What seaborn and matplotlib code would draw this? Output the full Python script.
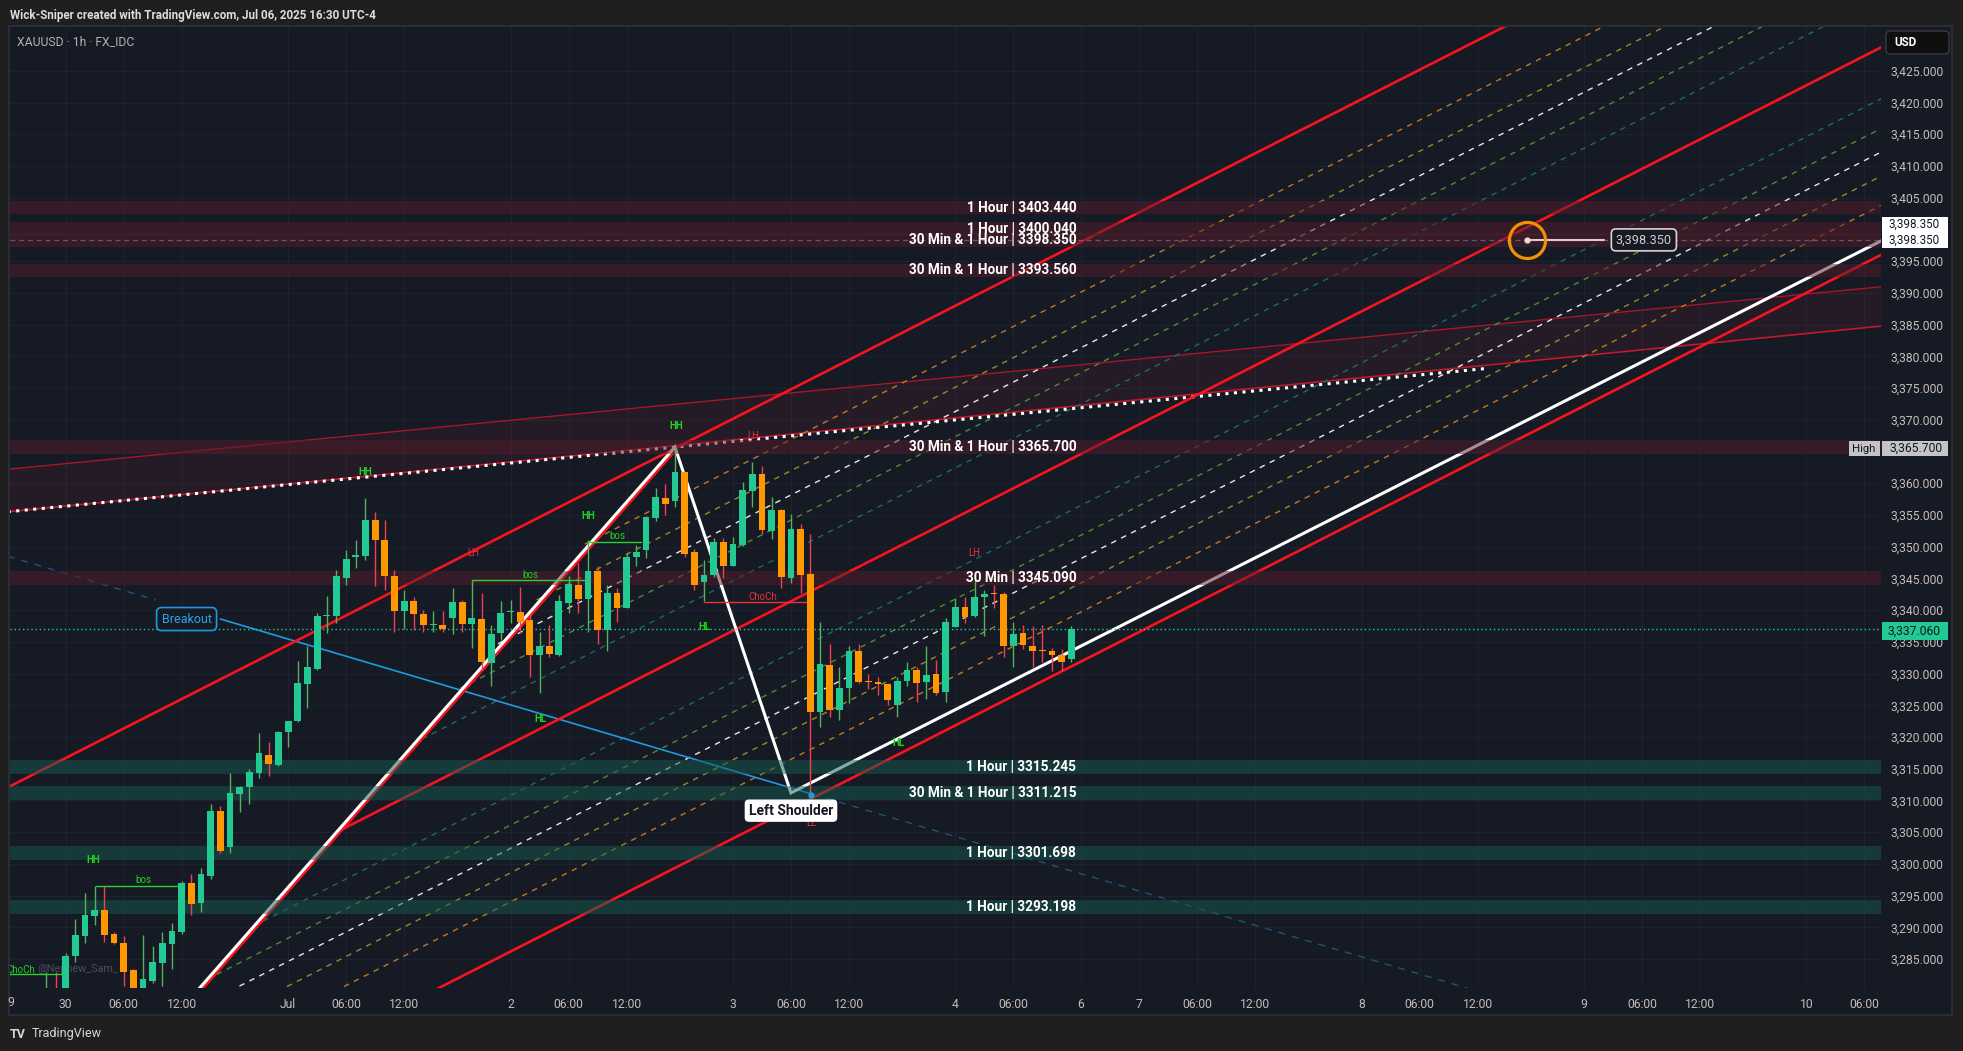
import matplotlib
matplotlib.use("Agg")
import matplotlib.pyplot as plt
from matplotlib.patches import Rectangle, FancyBboxPatch
import seaborn as sns

W, H = 1963, 1051

# hourly bars, x = bar number (0 = Jun 30 00:00)
bar_idx = list(range(-2, 105))
opens = [
    3276.0, 3279.0,
    3277.5, 3285.5, 3288.7, 3291.8, 3292.7, 3288.9, 3287.6, 3283.3, 3279.5, 3281.6,
    3284.4, 3287.4, 3289.3, 3297.0, 3293.8, 3298.1, 3308.4, 3302.7, 3311.1, 3312.1,
    3314.3, 3317.2, 3315.6, 3320.8, 3322.5, 3328.3, 3330.8, 3339.1, 3339.1, 3345.1,
    3348.3, 3348.6, 3354.2, 3351.1, 3345.4, 3339.8, 3341.4, 3339.4, 3337.6, 3337.6,
    3338.7, 3341.3, 3337.8, 3338.6, 3331.7, 3336.4, 3339.7, 3339.7, 3338.5, 3333.0,
    3334.4, 3333.0, 3341.2, 3344.0, 3341.8, 3346.2, 3336.8, 3342.7, 3340.4, 3348.3,
    3349.4, 3354.5, 3357.6, 3357.2, 3361.7, 3349.2, 3344.4, 3345.6, 3350.8, 3347.0,
    3350.3, 3358.8, 3361.4, 3352.5, 3355.8, 3345.1, 3352.8, 3345.7, 3324.0, 3331.3,
    3324.2, 3327.7, 3333.5, 3328.8, 3328.7, 3328.4, 3325.0, 3328.8, 3330.6, 3328.6,
    3330.0, 3327.1, 3337.4, 3340.5, 3339.1, 3342.1, 3342.6, 3342.6, 3334.3, 3336.4,
    3334.4, 3333.6, 3333.6, 3333.0, 3332.3]
highs = [
    3282.9, 3282.9,
    3286.0, 3291.3, 3295.4, 3296.5, 3296.5, 3289.2, 3288.6, 3283.5, 3288.8, 3287.1,
    3289.3, 3290.7, 3297.3, 3298.4, 3299.4, 3309.4, 3309.1, 3314.3, 3312.3, 3314.9,
    3320.7, 3319.2, 3320.9, 3322.6, 3332.0, 3334.3, 3339.5, 3342.3, 3346.4, 3349.5,
    3351.1, 3357.6, 3355.4, 3354.2, 3346.3, 3343.2, 3342.0, 3340.0, 3339.8, 3339.9,
    3343.5, 3341.6, 3344.7, 3342.7, 3337.7, 3341.4, 3341.6, 3343.7, 3339.4, 3336.6,
    3337.7, 3342.4, 3345.4, 3347.4, 3351.0, 3346.9, 3344.0, 3343.5, 3349.0, 3350.3,
    3354.8, 3359.2, 3359.9, 3365.7, 3361.8, 3349.6, 3347.9, 3351.3, 3351.3, 3351.5,
    3360.2, 3363.3, 3362.7, 3357.9, 3356.0, 3355.2, 3353.5, 3352.0, 3338.2, 3334.7,
    3331.1, 3334.4, 3334.7, 3330.0, 3329.5, 3328.5, 3329.5, 3331.8, 3331.0, 3334.3,
    3332.2, 3338.8, 3341.9, 3342.0, 3344.8, 3343.2, 3344.0, 3342.9, 3338.1, 3337.7,
    3337.5, 3337.7, 3334.0, 3333.8, 3337.5]
lows = [
    3274.0, 3275.0,
    3276.5, 3284.5, 3287.6, 3290.4, 3287.7, 3287.4, 3280.8, 3278.5, 3279.0, 3281.3,
    3280.8, 3283.4, 3288.9, 3291.9, 3292.4, 3297.6, 3301.8, 3301.8, 3308.2, 3309.4,
    3313.6, 3313.9, 3315.4, 3318.4, 3322.4, 3324.6, 3330.5, 3336.4, 3338.0, 3343.9,
    3346.6, 3347.9, 3343.8, 3343.2, 3336.6, 3337.1, 3336.8, 3336.5, 3336.5, 3336.5,
    3336.2, 3336.5, 3334.1, 3330.6, 3328.0, 3335.3, 3338.0, 3336.4, 3329.5, 3327.0,
    3332.6, 3332.8, 3339.5, 3339.5, 3336.6, 3334.7, 3333.6, 3338.2, 3340.3, 3347.0,
    3348.2, 3354.0, 3355.0, 3356.2, 3348.4, 3343.1, 3341.4, 3345.3, 3345.0, 3346.9,
    3350.1, 3356.2, 3352.0, 3351.2, 3343.5, 3344.2, 3342.7, 3310.9, 3321.6, 3323.1,
    3322.7, 3325.4, 3328.5, 3327.5, 3326.7, 3325.0, 3323.2, 3328.0, 3325.5, 3326.0,
    3326.6, 3325.6, 3337.3, 3337.9, 3338.9, 3336.0, 3340.4, 3332.6, 3331.1, 3333.9,
    3331.0, 3331.8, 3330.4, 3330.4, 3331.8]
closes = [
    3279.0, 3277.5,
    3285.5, 3288.8, 3291.9, 3292.7, 3288.8, 3287.6, 3283.0, 3279.5, 3281.9, 3284.5,
    3287.5, 3289.4, 3297.0, 3293.7, 3298.4, 3308.4, 3302.0, 3311.2, 3312.2, 3314.5,
    3317.5, 3315.7, 3320.8, 3322.6, 3328.5, 3331.1, 3339.1, 3339.2, 3345.4, 3348.1,
    3348.7, 3354.2, 3351.1, 3345.4, 3339.9, 3341.5, 3339.4, 3337.6, 3337.7, 3337.1,
    3341.3, 3337.8, 3338.7, 3331.8, 3336.3, 3339.6, 3339.8, 3338.2, 3333.0, 3334.4,
    3333.1, 3341.5, 3344.1, 3341.8, 3346.2, 3336.9, 3342.7, 3340.4, 3348.3, 3349.1,
    3354.6, 3357.8, 3356.8, 3361.7, 3348.9, 3344.0, 3345.6, 3350.8, 3347.0, 3350.4,
    3358.9, 3361.4, 3352.6, 3355.8, 3345.3, 3352.8, 3345.5, 3323.9, 3331.5, 3324.2,
    3327.7, 3333.6, 3328.7, 3328.7, 3328.3, 3325.8, 3328.9, 3330.6, 3328.5, 3329.7,
    3327.0, 3338.2, 3340.5, 3338.9, 3342.0, 3342.6, 3342.5, 3334.3, 3336.3, 3334.5,
    3333.5, 3333.5, 3332.9, 3331.9, 3337.06]

# axes
time_tick_idx = [0, 6, 12, 23, 29, 35, 46, 52, 58, 69, 75, 81, 92, 98,
                 105, 111, 117, 123, 134, 140, 146, 157, 163, 169, 180, 186]
time_tick_lbl = ["30", "06:00", "12:00", "Jul", "06:00", "12:00", "2", "06:00", "12:00",
                 "3", "06:00", "12:00", "4", "06:00", "6", "7", "06:00", "12:00",
                 "8", "06:00", "12:00", "9", "06:00", "12:00", "10", "06:00"]
price_ticks = list(range(3285, 3430, 5))
hidden_price_ticks = [3365, 3400]   # covered by the High / 3,398.350 badges

# zones
red_zone_levels = [3403.44, 3400.04, 3398.35, 3393.56, 3365.70, 3345.09]
red_zone_labels = ["1 Hour | 3403.440", "1 Hour | 3400.040", "30 Min & 1 Hour | 3398.350",
                   "30 Min & 1 Hour | 3393.560", "30 Min & 1 Hour | 3365.700", "30 Min | 3345.090"]
green_zone_levels = [3315.245, 3311.215, 3301.698, 3293.198]
green_zone_labels = ["1 Hour | 3315.245", "30 Min & 1 Hour | 3311.215",
                     "1 Hour | 3301.698", "1 Hour | 3293.198"]
last_price = 3337.06
session_high = 3365.70
target_level = 3398.35

# channel lines (thick red)
ch_upper_x, ch_upper_y = [-6, 150], [3312.05, 3432.9]
ch_mid_x, ch_mid_y = [28, 188], [3305.0, 3428.9]
ch_lower_x, ch_lower_y = [38, 188], [3280.0, 3396.2]

# fib lines inside channel (dashed)
fib_colors = ['#1d6b66', '#4e8c38', '#e8e8e8', '#9a8a2c', '#c27a1f']
fib_low_x0 = [19.4, 14.6, 10.8, 6.9, 2.2]
fib_low_y0 = [3290.2, 3281.8, 3275.2, 3268.3, 3260.1]
fib_low_y1 = [3420.8, 3416.1, 3412.4, 3408.6, 3404.0]
fib_up_x0 = [35.8, 40.8, 44.7, 48.7, 53.7]
fib_up_y0 = [3318.9, 3327.7, 3334.7, 3341.6, 3350.4]
fib_up_y1 = [3436.8, 3441.7, 3445.6, 3449.5, 3454.4]
fib_x1 = 188

# swing legs (white)
leg_x = [11.0, 63.0, 75.0, 188.0]
leg_y = [3275.5, 3365.7, 3311.2, 3398.4]

# dotted trend line and thin red fan
dot_x, dot_y = [-6, 147], [3355.5, 3378.1]
fan_x = [-6, 188]
fan_low_y = [3355.5, 3384.8]
fan_up_y = [3362.2, 3391.0]

# breakout line (blue)
brk_dash1_x, brk_dash1_y = [-6, 9.3], [3348.5, 3341.6]
brk_x, brk_y = [16.0, 77.2], [3338.6, 3311.0]
brk_dash2_x, brk_dash2_y = [77.2, 145], [3311.0, 3280.4]

# market structure labels
struct_lbl = ["HH", "HH", "HH", "HH", "LH", "LH", "LH", "HL", "HL", "HL", "LL",
              "ChoCh", "bos", "bos", "bos", "ChoCh"]
struct_x = [63.1, 31.0, 54.0, 2.9, 42.1, 94.0, 71.1, 49.1, 66.1, 86.1, 77.1,
            72.1, 48.1, 57.1, 8.0, -4.7]
struct_y = [3369.0, 3361.8, 3354.8, 3300.6, 3349.0, 3349.0, 3367.4, 3322.9, 3337.4,
            3319.0, 3306.4, 3342.1, 3345.6, 3351.7, 3297.4, 3283.3]
struct_up = [1, 1, 1, 1, 0, 0, 0, 1, 1, 1, 0, 0, 1, 1, 1, 1]
bos_x0 = [42, 54, 3.1, -6]
bos_x1 = [53.6, 59.5, 11.8, -0.2]
bos_y = [3344.7, 3350.8, 3296.5, 3282.6]
choch_x0, choch_x1, choch_y = 66, 77, 3341.3

UP, DOWN = '#22c993', '#ff9800'
UPW, DOWNW = '#52b35a', '#ef4050'
BG = '#161a25'
GREEN_TXT, RED_TXT = '#1fd11f', '#e5323e'
AX_TXT = '#c6bcb7'

sns.set_theme(style="dark")
plt.rcParams['font.family'] = ['Roboto', 'DejaVu Sans']

fig = plt.figure(figsize=(W / 100, H / 100), dpi=100)
fig.patch.set_facecolor('#1f1f1f')
fig.add_artist(Rectangle((9 / W, 1 - 1015 / H), 1943 / W, 989 / H, transform=fig.transFigure,
                         facecolor=BG, edgecolor='#2c303b', lw=1.2, zorder=-1))

ax = fig.add_axes([10 / W, 1 - 988 / H, 1871 / W, 961 / H])
ax.set_facecolor(BG)
for s in ax.spines.values():
    s.set_visible(False)
ax.set_xlim(-5.76, 187.72)
ax.set_ylim(3280.45, 3431.9)
ax.grid(True, color='#1d2130', lw=0.8)
ax.set_axisbelow(True)
ax.yaxis.tick_right()
ax.set_yticks(price_ticks)
ax.set_yticklabels(["" if v in hidden_price_ticks else f"{v:,.3f}" for v in price_ticks])
ax.set_xticks(time_tick_idx)
ax.set_xticklabels(time_tick_lbl)
ax.tick_params(axis='y', length=0, pad=6.5, colors=AX_TXT, labelsize=8.7)
ax.tick_params(axis='x', length=0, pad=7, colors=AX_TXT, labelsize=8.7)

# fan + dotted trend
ax.fill_between(fan_x, fan_low_y, fan_up_y, color='#f23645', alpha=0.07, lw=0, zorder=1.5)
ax.plot(fan_x, fan_up_y, color='#a8152a', lw=1.0, zorder=2)
ax.plot(fan_x, fan_low_y, color='#c0182c', lw=1.2, zorder=2)
ax.plot(dot_x, dot_y, color='white', lw=2.2, ls=(0, (1.0, 1.8)), dash_capstyle='butt', zorder=2.2)

# fib dashed lines
for c, x0, y0, y1 in zip(fib_colors, fib_low_x0, fib_low_y0, fib_low_y1):
    ax.plot([x0, fib_x1], [y0, y1], color=c, lw=1.0, ls=(0, (4, 4)), zorder=2)
for c, x0, y0, y1 in zip(fib_colors, fib_up_x0, fib_up_y0, fib_up_y1):
    ax.plot([x0, fib_x1], [y0, y1], color=c, lw=1.0, ls=(0, (4, 4)), zorder=2)

# channel
for xs, ys in [(ch_upper_x, ch_upper_y), (ch_mid_x, ch_mid_y), (ch_lower_x, ch_lower_y)]:
    ax.plot(xs, ys, color='#f7141f', lw=1.9, zorder=2.4)

# swing legs
ax.plot(leg_x[:2], [leg_y[0] - 0.6, leg_y[1] - 0.6], color='#f7141f', lw=2.0, zorder=2.5)
ax.plot(leg_x, leg_y, color='white', lw=2.2, zorder=2.6, solid_joinstyle='miter')

# breakout line
ax.plot(brk_dash1_x, brk_dash1_y, color='#1f6f9c', lw=1.0, ls=(0, (5, 5)), alpha=0.7, zorder=2.3)
ax.plot(brk_x, brk_y, color='#1e9be0', lw=1.2, zorder=2.3)
ax.plot(brk_dash2_x, brk_dash2_y, color='#1f6f9c', lw=1.0, ls=(0, (5, 5)), alpha=0.7, zorder=2.3)

# zones
for lv in red_zone_levels:
    ax.axhspan(lv - 1.05, lv + 1.05, color='#541c29', alpha=0.5, lw=0, zorder=3)
for lv in green_zone_levels:
    ax.axhspan(lv - 1.1, lv + 1.1, color='#165a4f', alpha=0.5, lw=0, zorder=3)
ax.axhline(target_level, color='#80838e', lw=0.9, ls=(0, (4, 3)), alpha=0.6, zorder=3.2)
ax.axhline(last_price, color='#22c9a0', lw=1.0, ls=(0, (1, 2)), zorder=3.2)

# candles
body_col = [UP if c >= o else DOWN for o, c in zip(opens, closes)]
wick_col = [UPW if c >= o else DOWNW for o, c in zip(opens, closes)]
ax.vlines(bar_idx, lows, highs, colors=wick_col, lw=1.0, zorder=4)
bottoms = [min(o, c) for o, c in zip(opens, closes)]
heights = [max(abs(c - o), 0.18) for o, c in zip(opens, closes)]
ax.bar(bar_idx, heights, bottom=bottoms, width=0.7, color=body_col, lw=0, zorder=5)

# structure
for x0, x1, y in zip(bos_x0, bos_x1, bos_y):
    ax.plot([x0, x1], [y, y], color='#2fd12f', lw=1.0, zorder=4.5)
ax.plot([choch_x0, choch_x1], [choch_y, choch_y], color='#e5323e', lw=1.0, zorder=4.5)
for t, x, y, up in zip(struct_lbl, struct_x, struct_y, struct_up):
    ax.text(x, y, t, color=GREEN_TXT if up else RED_TXT, fontsize=7, ha='center', va='center',
            fontweight='bold' if t in ("HH", "HL") else 'normal', zorder=6, clip_on=True)
ax.text(-2.9, 3283.4, "@Nephew_Sam_", color='#4a4e5a', fontsize=7.8, ha='left', va='center', zorder=3.5)

# zone labels
for lv, t in zip(red_zone_levels + green_zone_levels, red_zone_labels + green_zone_labels):
    ax.text(104.5, lv, t, color='white', fontsize=9.8, fontweight='bold', ha='right',
            va='center', zorder=7)

# drawings
ax.text(12.5, 3338.6, "Breakout", color='#2aa5e6', fontsize=9, ha='center', va='center', zorder=7,
        bbox=dict(boxstyle='round,pad=0.4,rounding_size=0.4', fc=BG, ec='#1e9be0', lw=1.2))
ax.text(75.0, 3308.4, "Left Shoulder", color='#131722', fontsize=10, fontweight='bold', ha='center',
        va='center', zorder=7, bbox=dict(boxstyle='round,pad=0.25', fc='white', ec='white'))
ax.plot([77.1], [3310.9], 'o', color='#1e9be0', ms=3.5, zorder=7)
ax.plot([151.1, 159.1], [target_level, target_level], color='#e2c9c9', lw=1.5, zorder=7)
ax.plot([151.1], [target_level], 'o', ms=26, mfc='none', mec='#f39200', mew=2.3, zorder=7)
ax.plot([151.1], [target_level], 'o', ms=3.5, color='#f0d6d6', zorder=7.1)
ax.text(163.2, target_level, "3,398.350", color='#d9c9c9', fontsize=9.2, ha='center', va='center',
        zorder=7, bbox=dict(boxstyle='round,pad=0.35', fc=BG, ec='#e2d0d0', lw=1.2))


def fx(x):
    return x / W


def fy(y):
    return 1 - y / H


# header / footer
fig.text(fx(10), fy(15), "Wick-Sniper created with TradingView.com, Jul 06, 2025 16:30 UTC-4",
         color='#dcdcdc', fontsize=8.4, fontweight='bold', va='center')
fig.text(fx(17), fy(42), "XAUUSD · 1h · FX_IDC", color='#b9b1ad', fontsize=8.7, va='center')
fig.text(fx(10), fy(1034), "TV", color='#d8d8d8', fontsize=9, fontweight='bold', va='center')
fig.text(fx(32), fy(1034), "TradingView", color='#d8d8d8', fontsize=9, va='center')
fig.text(fx(11), fy(1002), "9", color=AX_TXT, fontsize=8.7, ha='center', va='center')

# price-scale badges
fig.add_artist(FancyBboxPatch((fx(1886), fy(54)), 63 / W, 23 / H, transform=fig.transFigure,
                              boxstyle='round,pad=0,rounding_size=0.003', fc='#0f0f10', ec='#3b3b3e', lw=1))
fig.text(fx(1894), fy(42.5), "USD", color='white', fontsize=8.4, fontweight='bold', va='center')

fig.add_artist(Rectangle((fx(1882), fy(248)), 66 / W, 31 / H, transform=fig.transFigure,
                         fc='white', ec='none'))
fig.text(fx(1888), fy(224), "3,398.350", color='#131722', fontsize=8.4, va='center')
fig.text(fx(1888), fy(240), "3,398.350", color='#131722', fontsize=8.4, va='center')

fig.add_artist(Rectangle((fx(1849), fy(456)), 31 / W, 15 / H, transform=fig.transFigure,
                         fc='#c4c4c4', ec='none'))
fig.text(fx(1863.5), fy(448.5), "High", color='#131722', fontsize=8.2, ha='center', va='center')
fig.add_artist(Rectangle((fx(1882), fy(456)), 66 / W, 15 / H, transform=fig.transFigure,
                         fc='#c4c4c4', ec='none'))
fig.text(fx(1889), fy(448.5), f"{session_high:,.3f}", color='#131722', fontsize=8.7, va='center')

fig.add_artist(Rectangle((fx(1882), fy(640)), 66 / W, 18 / H, transform=fig.transFigure,
                         fc=UP, ec='none'))
fig.text(fx(1888), fy(631), f"{last_price:,.3f}", color='#131722', fontsize=8.7, va='center')

fig.savefig("out.png", dpi=100, facecolor=fig.get_facecolor())
